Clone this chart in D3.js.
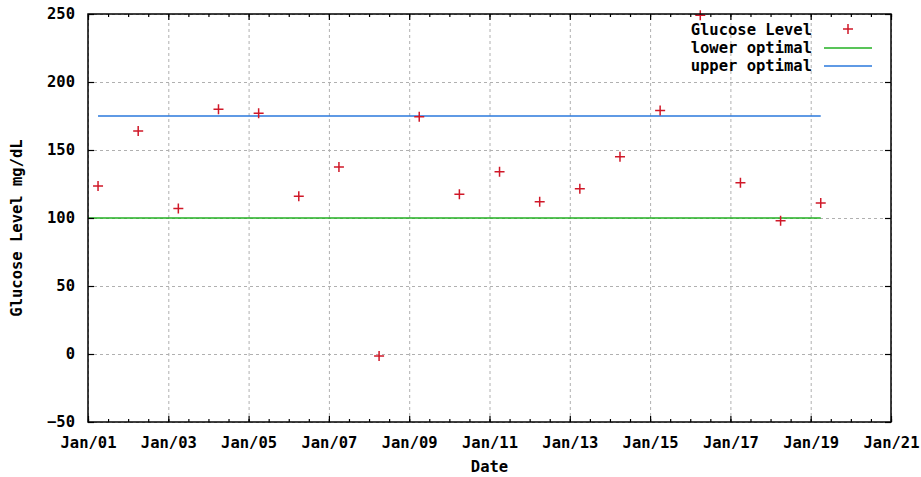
<!DOCTYPE html>
<html>
<head>
<meta charset="utf-8">
<script src="https://cdn.jsdelivr.net/npm/d3@7"></script>
<style>
  body { margin: 0; background: #fff; }
  text { font-family: "DejaVu Sans Mono", monospace; font-weight: bold; font-size: 15.5px; fill: #000; }
  .grid line { stroke: #b0b0b0; stroke-dasharray: 3,3; stroke-width: 1; }
  .grid .domain { display: none; }
</style>
</head>
<body>
<div id="chart"></div>
<script>
// Section 1: data
var readingDates = ["01-01 06:00", "01-02 06:00", "01-03 06:00", "01-04 06:00", "01-05 06:00",
  "01-06 06:00", "01-07 06:00", "01-08 06:00", "01-09 06:00", "01-10 06:00", "01-11 06:00",
  "01-12 06:00", "01-13 06:00", "01-14 06:00", "01-15 06:00", "01-16 06:00", "01-17 06:00",
  "01-18 06:00", "01-19 06:00"];
var glucose = [123.5, 164, 107, 180, 177, 116, 137.5, -1.5, 174.5, 117.5, 134, 112, 121.5,
  145, 179, 249, 126, 98, 111];
var lowerDates = ["01-01 00:00", "01-19 06:00"];
var lowerValues = [100, 100];
var upperDates = ["01-01 06:00", "01-19 06:00"];
var upperValues = [175, 175];
var xDomain = ["01-01 00:00", "01-21 00:00"];
var yDomain = [-50, 250];
var yTicks = [-50, 0, 50, 100, 150, 200, 250];
var legendLabels = ["Glucose Level", "lower optimal", "upper optimal"];

// Section 2: setup
var svgWidth = 921;
var svgHeight = 477;
var margin = { top: 14, right: 30, bottom: 55, left: 88 };
var chartWidth = svgWidth - margin.left - margin.right;
var chartHeight = svgHeight - margin.top - margin.bottom;

var parseTime = d3.utcParse("%m-%d %H:%M");
var red = "#d01828", green = "#22b022", blue = "#2a78dc";

var svg = d3.select("#chart").append("svg")
  .attr("width", svgWidth)
  .attr("height", svgHeight);

var chartGroup = svg.append("g")
  .attr("transform", `translate(${margin.left}, ${margin.top})`);

var xScale = d3.scaleUtc()
  .domain(xDomain.map(parseTime))
  .range([0, chartWidth]);

var yScale = d3.scaleLinear()
  .domain(yDomain)
  .range([chartHeight, 0]);

var majorDays = d3.utcDay.every(2);
var minorHours = d3.utcHour.every(12);

// grid lines
chartGroup.append("g")
  .attr("class", "grid")
  .attr("transform", `translate(0, ${chartHeight})`)
  .call(d3.axisBottom(xScale).ticks(majorDays).tickSize(-chartHeight).tickFormat(""));
chartGroup.append("g")
  .attr("class", "grid")
  .call(d3.axisLeft(yScale).tickValues(yTicks).tickSize(-chartWidth).tickFormat(""));

// optimal lines
var line = d3.line()
  .x(d => xScale(d.date))
  .y(d => yScale(d.value));

var lowerData = lowerDates.map((d, i) => ({ date: parseTime(d), value: lowerValues[i] }));
var upperData = upperDates.map((d, i) => ({ date: parseTime(d), value: upperValues[i] }));

chartGroup.append("path")
  .datum(lowerData)
  .attr("d", line)
  .attr("fill", "none")
  .attr("stroke", green)
  .attr("stroke-width", 1.5);
chartGroup.append("path")
  .datum(upperData)
  .attr("d", line)
  .attr("fill", "none")
  .attr("stroke", blue)
  .attr("stroke-width", 1.5);

// glucose points drawn as "+" marks
var points = readingDates.map((d, i) => ({ date: parseTime(d), value: glucose[i] }));
function plusPath(cx, cy, s) {
  return `M${cx - s},${cy}H${cx + s}M${cx},${cy - s}V${cy + s}`;
}
chartGroup.selectAll(".pt")
  .data(points)
  .enter()
  .append("path")
  .attr("class", "pt")
  .attr("d", d => plusPath(xScale(d.date), yScale(d.value), 5))
  .attr("stroke", red)
  .attr("stroke-width", 1.5)
  .attr("fill", "none");

// axes with inward ticks (mirrored on top and right)
function styleAxis(g) {
  g.select(".domain").remove();
  g.selectAll(".tick line").attr("stroke", "#000").attr("stroke-width", 1.2);
  g.selectAll("text").attr("font-size", null).attr("font-family", null);
}
chartGroup.append("g")
  .attr("transform", `translate(0, ${chartHeight})`)
  .call(d3.axisBottom(xScale).ticks(majorDays).tickSize(-6).tickPadding(15)
    .tickFormat(d3.utcFormat("%b/%d")))
  .call(styleAxis);
chartGroup.append("g")
  .attr("transform", `translate(0, ${chartHeight})`)
  .call(d3.axisBottom(xScale).ticks(minorHours).tickSize(-3).tickFormat(""))
  .call(styleAxis);
chartGroup.append("g")
  .call(d3.axisTop(xScale).ticks(majorDays).tickSize(-6).tickFormat(""))
  .call(styleAxis);
chartGroup.append("g")
  .call(d3.axisTop(xScale).ticks(minorHours).tickSize(-3).tickFormat(""))
  .call(styleAxis);
chartGroup.append("g")
  .call(d3.axisLeft(yScale).tickValues(yTicks).tickSize(-6).tickPadding(13))
  .call(styleAxis);
chartGroup.append("g")
  .attr("transform", `translate(${chartWidth}, 0)`)
  .call(d3.axisRight(yScale).tickValues(yTicks).tickSize(-6).tickFormat(""))
  .call(styleAxis);

// border
chartGroup.append("rect")
  .attr("width", chartWidth)
  .attr("height", chartHeight)
  .attr("fill", "none")
  .attr("stroke", "#000")
  .attr("stroke-width", 1.5);

// legend
var legend = chartGroup.append("g");
legendLabels.forEach(function(label, i) {
  var ly = 16 + i * 18;
  legend.append("text")
    .attr("x", 724)
    .attr("y", ly)
    .attr("dy", "0.35em")
    .attr("text-anchor", "end")
    .text(label);
  if (i === 0) {
    legend.append("path")
      .attr("d", plusPath(760, ly - 1, 5))
      .attr("stroke", red)
      .attr("stroke-width", 1.5);
  } else {
    legend.append("line")
      .attr("x1", 736).attr("x2", 784)
      .attr("y1", ly).attr("y2", ly)
      .attr("stroke", i === 1 ? green : blue)
      .attr("stroke-width", 1.5);
  }
});

// axis labels
svg.append("text")
  .attr("transform", "rotate(-90)")
  .attr("x", -228)
  .attr("y", 17)
  .attr("dy", "0.35em")
  .attr("text-anchor", "middle")
  .text("Glucose Level mg/dL");
svg.append("text")
  .attr("x", margin.left + chartWidth / 2)
  .attr("y", 467)
  .attr("dy", "0.35em")
  .attr("text-anchor", "middle")
  .text("Date");
</script>
</body>
</html>
